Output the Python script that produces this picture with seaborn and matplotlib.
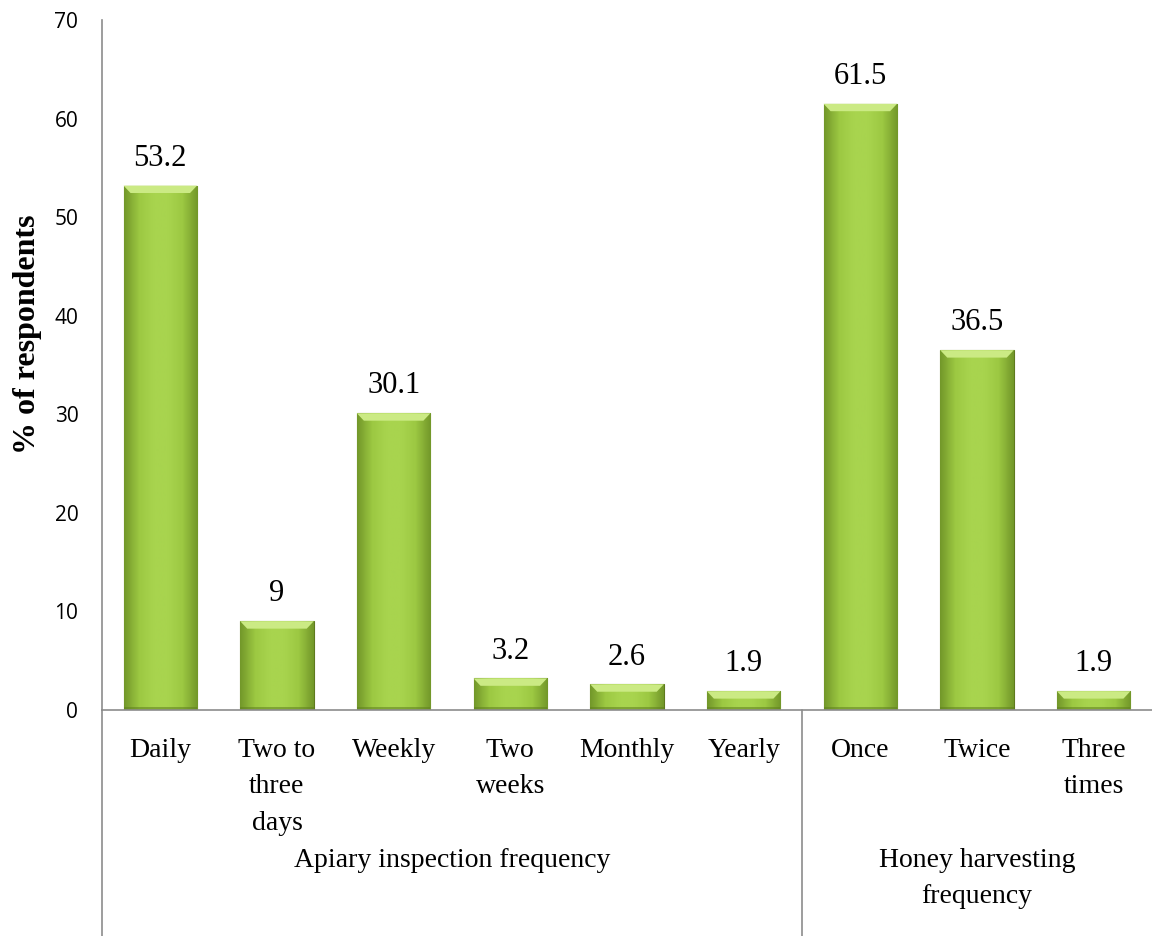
import numpy as np
import pandas as pd
import matplotlib.pyplot as plt
import matplotlib.colors as mcolors
import seaborn as sns

# === data ===
categories = ["Daily", "Two to\nthree\ndays", "Weekly", "Two\nweeks", "Monthly", "Yearly",
              "Once", "Twice", "Three\ntimes"]
values = [53.2, 9, 30.1, 3.2, 2.6, 1.9, 61.5, 36.5, 1.9]
value_labels = ["53.2", "9", "30.1", "3.2", "2.6", "1.9", "61.5", "36.5", "1.9"]
groups = ["Apiary inspection frequency", "Honey harvesting\nfrequency"]
group_sizes = [6, 3]
y_ticks = [0, 10, 20, 30, 40, 50, 60, 70]

df = pd.DataFrame({"cat": categories, "val": values})

sns.set_style("white")
plt.rcParams["font.family"] = ["Liberation Serif", "DejaVu Serif"]
plt.rcParams["text.color"] = "black"
plt.rcParams["axes.labelcolor"] = "black"
plt.rcParams["xtick.color"] = "black"
plt.rcParams["ytick.color"] = "black"

fig = plt.figure(figsize=(11.52, 9.36), dpi=100)
ax = fig.add_axes([0.0885, 0.2415, 0.9115, 0.7371])

sns.barplot(data=df, x="cat", y="val", color="#9CC83E", width=0.63,
            edgecolor="#5E7A1E", linewidth=0.8, saturation=1, ax=ax)

# gradient shading inside the bars
cmap = mcolors.LinearSegmentedColormap.from_list(
    "g", ["#73982A", "#9CC842", "#A8D44E", "#A8D44E", "#9CC842", "#73982A"])
grad = np.linspace(0, 1, 64).reshape(1, -1)
for p in ax.patches:
    x0, y0 = p.get_x(), p.get_y()
    w, h = p.get_width(), p.get_height()
    im = ax.imshow(grad, cmap=cmap, aspect="auto", extent=[x0, x0 + w, y0, y0 + h],
                   zorder=p.get_zorder() + 0.1)
    im.set_clip_path(p)
    # top bevel (trapezoid)
    bev = min(0.75, h * 0.4)
    ins = 0.06
    ax.fill([x0, x0 + w, x0 + w - ins, x0 + ins], [y0 + h, y0 + h, y0 + h - bev, y0 + h - bev],
            color="#CBEA84", zorder=p.get_zorder() + 0.2, lw=0)
    # darker base
    ax.fill_between([x0, x0 + w], y0, y0 + min(0.35, h * 0.15), color="#5E7F1E",
                    alpha=0.55, zorder=p.get_zorder() + 0.2, lw=0)

ax.set_ylim(0, 70)
ax.set_xlim(-0.5, len(categories) - 0.5)
ax.set_yticks(y_ticks)
ax.set_yticklabels([str(t) for t in y_ticks], family=["Open Sans", "DejaVu Sans"], fontsize=15)
ax.tick_params(axis="y", length=0, pad=17)
ax.tick_params(axis="x", length=0, pad=20)
ax.set_xticklabels(categories, fontsize=20, linespacing=1.6)
ax.set_xlabel("")
ax.set_ylabel("% of respondents", fontsize=23, fontweight="bold")
ax.yaxis.set_label_coords(-0.057, 0.545)

for i, (v, lab) in enumerate(zip(values, value_labels)):
    ax.text(i, v + 1.3, lab, ha="center", va="bottom", fontsize=22)

for s in ["top", "right"]:
    ax.spines[s].set_visible(False)
ax.spines["left"].set_color("#8C8C8C")
ax.spines["bottom"].set_color("#8C8C8C")
ax.spines["left"].set_linewidth(1.2)
ax.spines["bottom"].set_linewidth(1.2)

# extend the axis lines below for the group labels
trans = ax.get_xaxis_transform()
ax.plot([-0.5, -0.5], [0, -0.33], transform=trans, color="#8C8C8C", lw=1.2, clip_on=False)
ax.plot([5.5, 5.5], [0, -0.33], transform=trans, color="#8C8C8C", lw=1.2, clip_on=False)

start = 0
for g, n in zip(groups, group_sizes):
    mid = start + (n - 1) / 2
    ax.text(mid, -0.200, g, transform=trans, ha="center", va="top",
            fontsize=20, linespacing=1.6)
    start += n

fig.savefig("out.png", dpi=100)
